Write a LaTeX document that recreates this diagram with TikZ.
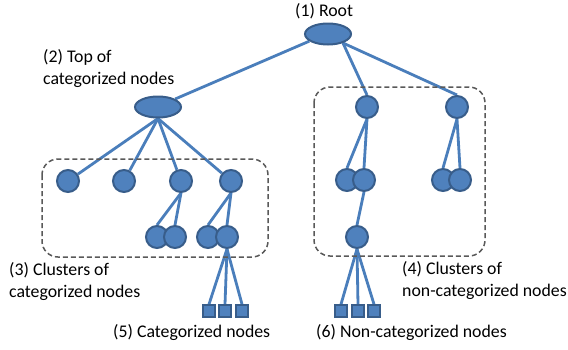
\documentclass[tikz,border=0pt]{standalone}
\usepackage{fontspec}
\setmainfont{Carlito}
\usetikzlibrary{shapes.geometric,backgrounds}
\definecolor{nfill}{HTML}{4F81BD}
\definecolor{nline}{HTML}{385D8A}
\definecolor{eline}{HTML}{4A7EBB}
\definecolor{bline}{HTML}{595959}
\begin{document}
\begin{tikzpicture}[x=1pt,y=-1pt,
  ell/.style={ellipse,fill=nfill,draw=nline,line width=2pt,minimum width=46pt,minimum height=21pt,inner sep=0pt},
  circ/.style={circle,fill=nfill,draw=nline,line width=2pt,minimum size=22pt,inner sep=0pt},
  sq/.style={rectangle,fill=nfill,draw=nline,line width=1.5pt,minimum size=12pt,inner sep=0pt},
  edge/.style={draw=eline,line width=2.8pt},
  cluster/.style={draw=bline,line width=1.5pt,dash pattern=on 5pt off 3pt,rounded corners=16pt},
  lbl/.style={font=\fontsize{17.8}{21.5}\selectfont,align=left,anchor=base west,inner sep=0pt,text=black}
]
\useasboundingbox (0,0) rectangle (568,349);
% nodes
\node[ell] (root) at (328,34) {};
\node[ell] (top) at (158,107) {};
\node[circ] (c1) at (68,181) {};
\node[circ] (c2) at (124,181) {};
\node[circ] (c3) at (181,181) {};
\node[circ] (c4) at (231,181) {};
\node[circ] (c3a) at (157,237) {};
\node[circ] (c3b) at (175,237) {};
\node[circ] (c4a) at (208,237) {};
\node[circ] (c4b) at (227,237) {};
\node[sq] (s1) at (209,311) {};
\node[sq] (s2) at (225,311) {};
\node[sq] (s3) at (242,311) {};
\node[circ] (r1) at (367,107) {};
\node[circ] (r2) at (457,107) {};
\node[circ] (r1a) at (347,180) {};
\node[circ] (r1b) at (364,180) {};
\node[circ] (r2a) at (443,180) {};
\node[circ] (r2b) at (460,180) {};
\node[circ] (r3) at (357,237) {};
\node[sq] (t1) at (341,311) {};
\node[sq] (t2) at (358,311) {};
\node[sq] (t3) at (374,311) {};
% edges
\begin{scope}[on background layer]
\draw[edge] (root.201) -- (top.25);
\draw[edge] (root.-31) -- (r1.north);
\draw[edge] (root.-31) -- (r2.north);
\foreach \c in {c1,c2,c3,c4} \draw[edge] (top.south) -- (\c);
\draw[edge] (c3.south) -- (c3a.north);
\draw[edge] (c3.south) -- (c3b.north);
\draw[edge] (c4.south) -- (c4a.north);
\draw[edge] (c4.south) -- (c4b.north);
\foreach \s in {s1,s2,s3} \draw[edge] (c4b.south) -- (\s.north);
\draw[edge] (r1.south) -- (r1a.north);
\draw[edge] (r1.south) -- (r1b.north);
\draw[edge] (r2.south) -- (r2a.north);
\draw[edge] (r2.south) -- (r2b.north);
\draw[edge] (r1b.south) -- (r3.north);
\foreach \t in {t1,t2,t3} \draw[edge] (r3.south) -- (\t.north);
\end{scope}
% clusters
\draw[cluster] (42,159) rectangle (268,257);
\draw[cluster] (314,87) rectangle (485,256);
% labels (base anchor = baseline of the last line)
\node[lbl] (l1) at (295,16) {(1) Root};
\node[lbl] (l2) at (43,84) {(2) Top of\\categorized nodes};
\node[lbl] (l3) at (9,297) {(3) Clusters of\\categorized nodes};
\node[lbl] (l4) at (402,296) {(4) Clusters of\\non-categorized nodes};
\node[lbl] (l5) at (113,337) {(5) Categorized nodes};
\node[lbl] (l6) at (316,337) {(6) Non-categorized nodes};
\end{tikzpicture}
\end{document}
